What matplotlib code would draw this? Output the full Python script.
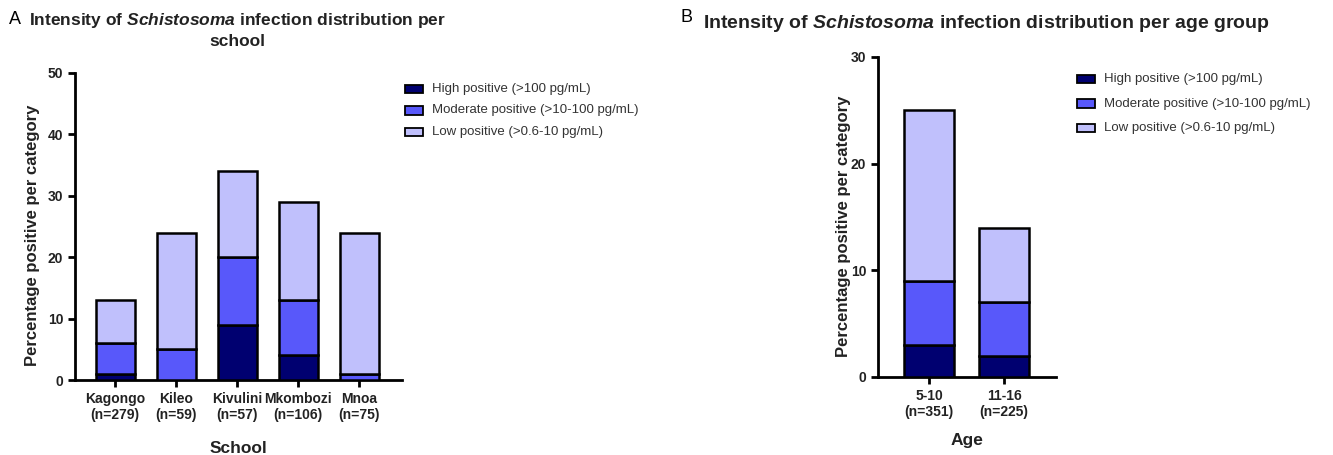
import matplotlib
matplotlib.use("Agg")
import matplotlib.pyplot as plt
import numpy as np

plt.rcParams['font.family'] = ['Liberation Sans', 'DejaVu Sans']
plt.rcParams['mathtext.fontset'] = 'custom'
plt.rcParams['mathtext.it'] = 'Liberation Sans:italic:bold'
plt.rcParams['mathtext.rm'] = 'Liberation Sans:bold'
plt.rcParams['mathtext.bf'] = 'Liberation Sans:bold'

schools = ["Kagongo\n(n=279)", "Kileo\n(n=59)", "Kivulini\n(n=57)", "Mkombozi\n(n=106)", "Mnoa\n(n=75)"]
school_high = [1, 0, 9, 4, 0]
school_moderate = [5, 5, 11, 9, 1]
school_low = [7, 19, 14, 16, 23]

ages = ["5-10\n(n=351)", "11-16\n(n=225)"]
age_high = [3, 2]
age_moderate = [6, 5]
age_low = [16, 7]

series_labels = ["High positive (>100 pg/mL)", "Moderate positive (>10-100 pg/mL)", "Low positive (>0.6-10 pg/mL)"]
colors = ["#000070", "#5858fa", "#c0c0fc"]

W, H = 1333, 455
fig = plt.figure(figsize=(W / 100, H / 100), dpi=100)

def box(l, t, r, b):
    return [l / W, 1 - b / H, (r - l) / W, (b - t) / H]

def stacked(ax, cats, high, mod, low, width):
    x = np.arange(len(cats))
    high = np.array(high); mod = np.array(mod); low = np.array(low)
    kw = dict(width=width, edgecolor="black", linewidth=1.8, zorder=3)
    ax.bar(x, high, color=colors[0], **kw)
    ax.bar(x, mod, bottom=high, color=colors[1], **kw)
    ax.bar(x, low, bottom=high + mod, color=colors[2], **kw)
    ax.set_xticks(x)
    ax.set_xticklabels(cats, fontweight="bold", fontsize=10, color="#222222", linespacing=1.2)
    for s in ["top", "right"]:
        ax.spines[s].set_visible(False)
    for s in ["left", "bottom"]:
        ax.spines[s].set_linewidth(2)
    ax.tick_params(axis="both", width=2, length=5, labelsize=10)
    return x

def legend(fig, x, y, dy):
    for i, (lab, c) in enumerate(zip(series_labels, colors)):
        yy = y + i * dy
        fig.patches.append(matplotlib.patches.Rectangle((x / W, 1 - (yy + 4) / H), 18 / W, 8 / H,
                                                        facecolor=c, edgecolor="black", linewidth=1.3,
                                                        transform=fig.transFigure, figure=fig))
        fig.text((x + 27) / W, 1 - yy / H, lab, fontsize=9.5, color="#333333", va="center", ha="left")

def boldticks(ax):
    for lab in ax.get_yticklabels():
        lab.set_fontweight("bold")
        lab.set_color("#222222")

# Panel A
axA = fig.add_axes(box(75, 73, 402, 380))
stacked(axA, schools, school_high, school_moderate, school_low, 0.64)
axA.set_xlim(-0.66, 4.7)
axA.set_ylim(0, 50)
axA.set_yticks([0, 10, 20, 30, 40, 50])
boldticks(axA)
axA.set_ylabel("Percentage positive per category", fontsize=12, fontweight="bold", color="#222222")
axA.yaxis.set_label_coords(-0.107, 0.47)
axA.set_xlabel("School", fontsize=12.5, fontweight="bold", color="#222222", labelpad=14)
legend(fig, 405, 89, 21.5)

fig.text(9 / W, 1 - 20 / H, "A", fontsize=13, va="center", ha="left")
fig.text(237 / W, 1 - 20 / H, r"Intensity of $\mathit{Schistosoma}$ infection distribution per",
         fontsize=12.5, fontweight="bold", va="center", ha="center", color="#222222")
fig.text(237 / W, 1 - 41 / H, "school", fontsize=12.5, fontweight="bold", va="center", ha="center", color="#222222")

# Panel B
axB = fig.add_axes(box(878, 57, 1056, 377))
stacked(axB, ages, age_high, age_moderate, age_low, 0.66)
axB.set_xlim(-0.68, 1.69)
axB.set_ylim(0, 30)
axB.set_yticks([0, 10, 20, 30])
boldticks(axB)
axB.set_ylabel("Percentage positive per category", fontsize=12, fontweight="bold", color="#222222")
axB.yaxis.set_label_coords(-0.15, 0.47)
axB.set_xlabel("Age", fontsize=12.5, fontweight="bold", color="#222222", labelpad=10)
legend(fig, 1077, 79, 24.5)

fig.text(680 / W, 1 - 17 / H, "B", fontsize=13, va="center", ha="left")
fig.text(703 / W, 1 - 23 / H, r"Intensity of $\mathit{Schistosoma}$ infection distribution per age group",
         fontsize=14, fontweight="bold", va="center", ha="left", color="#222222")

fig.savefig("out.png", dpi=100)
